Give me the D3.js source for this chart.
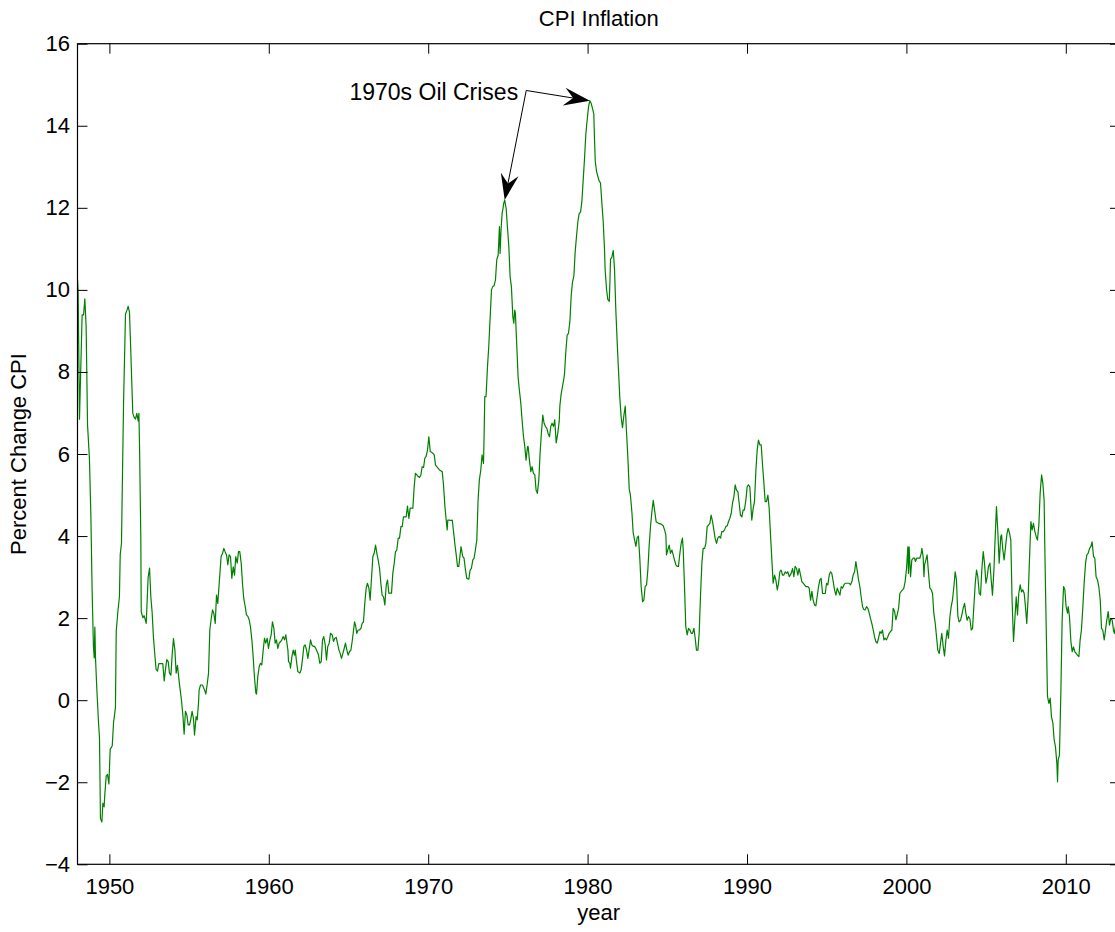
<!DOCTYPE html>
<html>
<head>
<meta charset="utf-8">
<script src="https://cdn.jsdelivr.net/npm/d3@7"></script>
<style>
  body { margin: 0; background: #fff; }
  svg { display: block; font-family: "Liberation Sans", Arial, Helvetica, sans-serif; }
</style>
</head>
<body>
<script>
// Data // ----------------------------------------------------------------------
// monthly-ish readings of year-over-year CPI change (decimal year, percent)
var dates = [
  1948.00,1948.04,1948.125,1948.29,1948.38,1948.46,1948.54,1948.63,1948.75,1948.84,1948.92,
  1949.00,1949.05,1949.09,1949.13,1949.21,1949.32,1949.38,1949.44,1949.53,1949.59,1949.67,1949.71,1949.80,1949.88,1949.97,
  1950.05,1950.18,1950.26,1950.38,1950.43,1950.53,1950.63,1950.68,1950.76,1950.80,1950.89,1950.97,
  1951.01,1951.10,1951.18,1951.26,1951.33,1951.39,1951.47,1951.55,1951.64,1951.72,1951.81,1951.85,1951.89,1951.97,
  1952.00,1952.10,1952.18,1952.31,1952.43,1952.52,1952.60,1952.68,1952.77,1952.85,1952.93,
  1953.02,1953.10,1953.23,1953.35,1953.44,1953.52,1953.60,1953.69,1953.77,1953.86,1953.94,
  1954.02,1954.11,1954.19,1954.27,1954.40,1954.52,1954.61,1954.69,1954.77,1954.86,1954.94,
  1955.03,1955.11,1955.19,1955.28,1955.34,1955.44,1955.51,1955.59,1955.63,1955.72,1955.84,1955.97,
  1956.05,1956.13,1956.22,1956.30,1956.39,1956.47,1956.55,1956.64,1956.72,1956.80,1956.89,
  1957.01,1957.10,1957.18,1957.26,1957.35,1957.43,1957.51,1957.60,1957.68,1957.77,1957.85,1957.93,
  1958.02,1958.10,1958.18,1958.27,1958.35,1958.43,1958.52,1958.60,1958.69,1958.77,1958.85,1958.94,
  1959.02,1959.10,1959.19,1959.23,1959.31,1959.40,1959.48,1959.56,1959.65,1959.73,1959.81,1959.90,1959.98,
  1960.07,1960.15,1960.23,1960.32,1960.40,1960.48,1960.57,1960.65,1960.74,1960.82,1960.90,1960.99,
  1961.07,1961.11,1961.20,1961.24,1961.32,1961.36,1961.45,1961.53,1961.61,1961.66,1961.74,1961.82,1961.95,
  1962.03,1962.12,1962.20,1962.28,1962.37,1962.45,1962.53,1962.62,1962.70,1962.79,1962.87,1962.95,
  1963.04,1963.12,1963.20,1963.29,1963.37,1963.45,1963.54,1963.62,1963.70,1963.79,1963.87,1963.98,
  1964.06,1964.14,1964.23,1964.31,1964.40,1964.48,1964.56,1964.65,1964.73,1964.81,1964.90,1964.98,
  1965.06,1965.15,1965.23,1965.32,1965.38,1965.44,1965.52,1965.61,1965.69,1965.78,1965.86,1965.94,
  1966.03,1966.11,1966.19,1966.28,1966.36,1966.45,1966.53,1966.61,1966.70,1966.78,1966.86,1966.95,
  1967.03,1967.11,1967.20,1967.28,1967.37,1967.45,1967.53,1967.62,1967.70,1967.78,1967.87,1967.95,
  1968.03,1968.12,1968.20,1968.29,1968.37,1968.45,1968.54,1968.62,1968.70,1968.79,1968.87,1968.95,
  1969.04,1969.12,1969.20,1969.29,1969.37,1969.46,1969.54,1969.62,1969.71,1969.79,1969.87,1969.96,
  1970.04,1970.13,1970.21,1970.29,1970.38,1970.46,1970.54,1970.63,1970.71,1970.79,1970.88,1970.96,
  1971.05,1971.13,1971.19,1971.23,1971.34,1971.42,1971.51,1971.59,1971.67,1971.76,1971.84,1971.92,
  1972.06,1972.17,1972.25,1972.34,1972.42,1972.55,1972.63,1972.71,1972.80,1972.88,1972.96,
  1973.05,1973.13,1973.21,1973.30,1973.38,1973.47,1973.51,1973.55,1973.63,1973.72,1973.80,1973.88,1973.97,
  1974.05,1974.13,1974.22,1974.30,1974.39,1974.47,1974.51,1974.57,1974.64,1974.68,1974.74,1974.80,1974.89,1974.97,
  1975.06,1975.14,1975.22,1975.31,1975.37,1975.43,1975.47,1975.56,1975.64,1975.72,1975.81,1975.89,1975.98,
  1976.06,1976.14,1976.23,1976.27,1976.35,1976.44,1976.52,1976.60,1976.69,1976.77,1976.85,1976.94,
  1977.02,1977.10,1977.19,1977.27,1977.36,1977.44,1977.52,1977.61,1977.69,1977.77,1977.86,1977.94,
  1978.03,1978.13,1978.22,1978.26,1978.34,1978.43,1978.51,1978.55,1978.64,1978.72,1978.80,1978.89,1978.97,
  1979.05,1979.14,1979.22,1979.31,1979.39,1979.47,1979.56,1979.64,1979.72,1979.81,1979.89,1979.97,
  1980.06,1980.14,1980.23,1980.31,1980.39,1980.43,1980.48,1980.56,1980.64,1980.73,1980.81,1980.89,1980.98,
  1981.06,1981.10,1981.19,1981.27,1981.36,1981.40,1981.44,1981.52,1981.61,1981.69,1981.77,1981.86,1981.94,
  1982.02,1982.11,1982.19,1982.27,1982.36,1982.44,1982.53,1982.61,1982.69,1982.78,1982.86,1982.94,
  1983.03,1983.11,1983.19,1983.28,1983.36,1983.45,1983.53,1983.61,1983.70,1983.78,1983.86,1983.95,
  1984.03,1984.12,1984.30,1984.45,1984.62,1984.74,1984.83,1984.91,1984.95,
  1985.03,1985.12,1985.20,1985.29,1985.37,1985.45,1985.54,1985.62,1985.70,1985.79,1985.87,1985.95,
  1986.00,1986.08,1986.16,1986.25,1986.33,1986.42,1986.50,1986.58,1986.67,1986.75,1986.83,1986.92,
  1987.00,1987.08,1987.17,1987.25,1987.34,1987.42,1987.50,1987.59,1987.67,1987.75,1987.84,1987.92,
  1988.00,1988.09,1988.17,1988.26,1988.34,1988.42,1988.51,1988.59,1988.67,1988.76,1988.84,1988.92,
  1989.01,1989.09,1989.18,1989.26,1989.34,1989.43,1989.51,1989.59,1989.68,1989.76,1989.84,1989.93,
  1990.01,1990.09,1990.18,1990.26,1990.30,1990.39,1990.47,1990.56,1990.64,1990.72,1990.81,1990.89,1990.97,
  1991.06,1991.14,1991.22,1991.31,1991.39,1991.47,1991.56,1991.64,1991.73,1991.81,1991.90,1991.98,
  1992.06,1992.14,1992.23,1992.31,1992.40,1992.48,1992.56,1992.65,1992.77,1992.86,1992.94,
  1993.02,1993.11,1993.19,1993.27,1993.36,1993.44,1993.53,1993.61,1993.69,1993.82,1993.90,1993.99,
  1994.07,1994.15,1994.24,1994.32,1994.40,1994.49,1994.57,1994.65,1994.74,1994.82,1994.91,1994.99,
  1995.07,1995.16,1995.24,1995.32,1995.41,1995.49,1995.58,1995.66,1995.74,1995.83,1995.91,1995.99,
  1996.08,1996.16,1996.24,1996.33,1996.41,1996.49,1996.58,1996.66,1996.75,1996.83,1996.91,
  1997.00,1997.08,1997.16,1997.25,1997.33,1997.41,1997.50,1997.58,1997.67,1997.75,1997.83,1997.92,
  1998.00,1998.08,1998.17,1998.25,1998.34,1998.42,1998.50,1998.59,1998.67,1998.75,1998.84,1998.92,
  1999.00,1999.09,1999.17,1999.26,1999.34,1999.42,1999.51,1999.59,1999.67,1999.76,1999.84,1999.92,
  2000.01,2000.09,2000.13,2000.17,2000.26,2000.34,2000.43,2000.51,2000.57,2000.64,2000.72,2000.84,2000.93,2000.97,
  2001.05,2001.10,2001.14,2001.22,2001.30,2001.39,2001.47,2001.56,2001.64,2001.72,2001.81,2001.89,2001.97,
  2002.06,2002.14,2002.22,2002.31,2002.39,2002.48,2002.56,2002.64,2002.73,2002.81,2002.89,2002.98,
  2003.06,2003.14,2003.23,2003.31,2003.40,2003.48,2003.56,2003.65,2003.73,2003.81,2003.90,2003.98,
  2004.07,2004.15,2004.23,2004.32,2004.40,2004.48,2004.57,2004.65,2004.73,2004.82,2004.90,2004.99,
  2005.07,2005.15,2005.24,2005.32,2005.40,2005.49,2005.57,2005.65,2005.74,2005.82,2005.92,2005.97,
  2006.05,2006.13,2006.22,2006.30,2006.38,2006.47,2006.55,2006.63,2006.72,2006.80,2006.89,2006.97,
  2007.05,2007.14,2007.22,2007.30,2007.39,2007.47,2007.55,2007.64,2007.72,2007.81,2007.89,2007.97,
  2008.06,2008.14,2008.22,2008.31,2008.39,2008.48,2008.56,2008.64,2008.68,2008.77,2008.85,2008.94,
  2009.02,2009.10,2009.19,2009.27,2009.35,2009.44,2009.48,2009.52,2009.60,2009.69,2009.77,2009.86,2009.94,
  2010.02,2010.11,2010.15,2010.23,2010.32,2010.40,2010.48,2010.57,2010.65,2010.73,2010.82,2010.90,2010.98,
  2011.07,2011.15,2011.24,2011.32,2011.40,2011.49,2011.57,2011.65,2011.74,2011.82,2011.90,2011.99,
  2012.07,2012.16,2012.24,2012.32,2012.41,2012.49,2012.57,2012.66,2012.74,2012.82,2012.91,2012.99,
  2013.05,2013.15,2013.25,2013.33
];
var inflation = [
  10.25,9.97,6.85,9.39,9.39,9.78,9.13,6.71,5.87,4.48,2.62,
  1.31,1.03,1.78,1.03,0.29,-0.55,-0.92,-2.88,-2.97,-2.51,-2.60,-2.32,-1.85,-1.81,-2.04,
  -1.20,-1.11,-0.55,-0.18,1.68,2.15,2.52,3.55,3.83,4.94,7.27,8.67,
  9.41,9.50,9.60,9.46,8.67,7.92,6.99,6.90,6.85,6.99,6.80,6.99,6.25,4.01,
  2.15,2.01,2.06,1.87,2.99,3.22,2.52,2.15,1.50,1.12,0.75,
  0.71,0.89,0.89,0.89,0.47,0.75,0.99,0.94,0.66,0.61,1.12,
  1.50,1.22,0.66,0.85,0.38,0.01,-0.36,-0.83,-0.27,-0.36,-0.60,
  -0.60,-0.46,-0.27,-0.46,-0.85,-0.40,-0.48,-0.08,0.25,0.37,0.37,0.25,
  0.15,0.37,0.66,1.71,1.99,2.20,2.12,1.87,2.56,2.36,2.85,
  3.50,3.58,3.70,3.62,3.54,3.30,3.54,3.50,2.97,3.25,3.05,3.50,
  3.34,3.62,3.62,3.34,2.85,2.48,2.28,2.08,2.04,1.96,1.79,1.47,
  1.06,0.57,0.17,0.15,0.57,0.82,0.90,0.86,1.22,1.51,1.39,1.51,1.26,
  1.47,1.59,1.91,1.75,1.39,1.47,1.26,1.39,1.43,1.47,1.55,1.47,
  1.59,1.47,1.22,0.94,0.90,0.78,1.06,1.22,1.10,1.22,0.94,0.70,0.66,
  0.74,1.02,1.31,1.35,1.22,1.02,1.22,1.47,1.35,1.31,1.31,1.26,
  1.18,1.10,0.90,0.94,1.47,1.55,1.35,0.98,1.31,1.39,1.63,1.59,
  1.43,1.51,1.53,1.39,1.22,1.14,1.02,1.14,1.26,1.39,1.22,1.10,
  1.18,1.22,1.43,1.71,1.91,1.83,1.63,1.71,1.71,1.75,1.87,1.91,
  2.40,2.73,2.85,2.73,2.44,3.01,3.50,3.58,3.78,3.58,3.42,3.21,
  2.85,2.56,2.52,2.32,2.81,2.93,2.61,2.61,2.61,3.09,3.34,3.62,
  3.66,3.95,3.95,4.23,4.23,4.47,4.47,4.47,4.73,4.43,4.68,4.68,
  4.68,5.20,5.53,5.49,5.45,5.43,5.49,5.69,5.67,5.90,5.94,6.10,
  6.42,6.06,6.04,6.02,5.98,5.73,5.69,5.65,5.61,5.59,5.57,5.25,
  4.72,4.39,4.15,4.39,4.39,4.38,4.39,4.11,3.82,3.54,3.26,3.26,
  3.74,3.50,3.46,3.17,2.97,2.95,3.17,3.21,3.42,3.46,3.66,
  3.90,4.88,5.37,5.61,5.98,5.77,6.50,7.40,7.40,8.13,8.62,9.27,10.00,
  10.08,10.10,10.24,10.73,10.85,11.54,10.89,11.46,11.87,11.95,12.11,12.19,11.99,11.54,
  11.05,10.32,10.08,9.35,9.19,9.51,9.43,8.62,7.88,7.56,7.24,6.83,6.42,
  6.18,5.85,6.18,6.18,5.85,5.57,5.69,5.53,5.49,5.12,5.04,5.37,
  6.02,6.50,6.95,6.75,6.67,6.63,6.50,6.42,6.67,6.75,6.67,6.83,
  6.27,6.51,6.80,7.17,7.46,7.66,7.83,7.95,8.53,8.90,8.94,9.23,9.85,
  10.18,10.34,10.92,11.33,11.66,11.86,11.90,12.15,12.65,13.22,13.80,14.13,
  14.46,14.61,14.54,14.42,14.29,13.72,13.14,12.89,12.77,12.65,12.61,12.15,11.66,
  11.00,10.50,10.01,9.76,9.72,10.18,10.75,10.79,10.96,10.50,9.52,8.69,8.03,
  7.38,6.88,6.64,6.92,7.17,6.55,5.89,5.15,4.99,4.58,4.08,3.92,
  3.75,3.96,4.00,3.42,2.77,2.40,2.44,2.77,2.81,3.18,3.75,4.25,
  4.58,4.87,4.35,4.31,4.29,4.25,4.15,4.03,3.54,
  3.66,3.78,3.58,3.66,3.54,3.42,3.30,3.26,3.26,3.58,3.82,3.95,
  3.66,2.77,1.79,1.59,1.75,1.71,1.63,1.63,1.75,1.51,1.22,1.22,
  1.63,2.52,3.34,3.70,3.70,3.82,4.23,4.27,4.31,4.51,4.35,4.15,
  3.95,3.82,3.95,3.99,3.95,4.11,4.11,4.15,4.23,4.25,4.35,4.43,
  4.55,4.80,4.96,5.25,5.12,5.08,4.80,4.51,4.47,4.64,4.64,4.88,
  5.20,5.25,5.20,4.64,4.39,4.68,4.84,5.61,6.10,6.34,6.22,6.22,5.77,
  5.29,4.84,4.84,5.00,4.68,4.07,3.42,2.85,3.05,2.93,2.69,2.85,
  3.13,3.17,3.05,3.05,3.13,3.09,3.13,3.01,3.09,3.21,3.01,
  3.26,3.21,3.05,3.21,3.05,2.89,2.85,2.81,2.77,2.77,2.73,2.44,
  2.65,2.44,2.32,2.30,2.52,2.77,2.93,2.97,2.60,2.60,2.60,2.85,
  2.81,3.05,3.13,3.09,2.89,2.69,2.56,2.73,2.65,2.56,2.77,2.73,
  2.81,2.85,2.85,2.85,2.85,2.81,2.89,3.05,3.13,3.38,3.17,
  2.93,2.77,2.52,2.28,2.21,2.20,2.28,2.24,2.12,1.99,1.87,1.71,
  1.55,1.43,1.39,1.51,1.67,1.63,1.71,1.47,1.51,1.47,1.55,1.63,
  1.67,1.71,2.24,2.16,1.96,2.08,2.24,2.60,2.65,2.69,2.73,2.89,
  3.21,3.74,3.09,3.74,3.01,3.42,3.46,3.46,3.38,3.46,3.46,3.46,3.58,3.70,
  3.50,3.01,3.30,3.42,3.54,3.09,2.73,2.69,2.60,2.12,1.87,1.55,1.22,
  1.14,1.39,1.63,1.31,1.08,1.47,1.71,1.51,2.04,2.28,2.44,2.77,
  3.13,2.93,2.04,1.91,1.95,2.08,2.24,2.36,2.12,1.95,2.04,1.99,
  1.71,1.75,2.28,2.85,3.17,3.01,2.60,2.56,3.17,3.62,3.34,2.85,
  3.01,3.26,3.34,2.93,2.56,3.17,3.98,4.72,4.07,3.34,3.99,4.03,
  3.66,3.42,3.74,4.03,4.19,4.07,3.90,2.44,1.43,1.95,2.52,2.08,
  2.60,2.81,2.64,2.69,2.60,2.28,1.87,2.52,3.42,4.35,4.15,4.31,
  4.11,3.99,3.90,4.27,5.04,5.49,5.29,4.88,3.82,1.79,0.09,-0.08,
  0.05,-0.40,-0.56,-0.97,-1.13,-1.54,-1.99,-1.46,-1.34,0.17,1.95,2.77,2.69,
  2.28,2.12,2.28,2.04,1.43,1.18,1.30,1.18,1.14,1.10,1.06,1.47,1.71,
  2.28,2.85,3.34,3.54,3.58,3.70,3.74,3.86,3.50,3.46,3.01,2.93,
  2.77,2.44,1.75,1.71,1.47,1.71,1.95,2.16,1.83,1.99,1.95,1.71,
  1.63,1.90,1.50,1.40
];
var xTicks = [1950, 1960, 1970, 1980, 1990, 2000, 2010];
var yTicks = [-4, -2, 0, 2, 4, 6, 8, 10, 12, 14, 16];
var xLimits = [1948, 2013.4];
var yLimits = [-4, 16];
var chartTitle = "CPI Inflation";
var xLabel = "year";
var yLabel = "Percent Change CPI";
// annotation: text spot and arrow start in data units, arrows point at the two peaks
var noteText = "1970s Oil Crises";
var noteAt = [1965.06, 14.63];
var noteTail = [1976.15, 14.86];
var peakWindows = [[1973, 1976], [1979, 1981]];

// Layout // --------------------------------------------------------------------
var svgW = 1115, svgH = 932;
var margin = {top: 43.7, left: 77.5},
    width = 1042.5,   // right edge of the axes falls just past the picture
    height = 820.6;

var x = d3.scaleLinear().domain(xLimits).range([0, width]),
    y = d3.scaleLinear().domain(yLimits).range([height, 0]);

var svg = d3.select("body").append("svg")
            .attr("width", svgW)
            .attr("height", svgH);

var g = svg.append("g")
           .attr("transform", "translate(" + margin.left + "," + margin.top + ")");

var fontSize = 22;

// clip for the data line
g.append("clipPath").attr("id", "plotclip")
 .append("rect").attr("width", width).attr("height", height);

// the series
var series = d3.zip(dates, inflation);
var valueLine = d3.line()
                  .x(function(d){ return x(d[0]); })
                  .y(function(d){ return y(d[1]); });

g.append("path")
 .datum(series)
 .attr("clip-path", "url(#plotclip)")
 .attr("fill", "none")
 .attr("stroke", "#008000")
 .attr("stroke-width", 1.2)
 .attr("stroke-linejoin", "round")
 .attr("d", valueLine);

// axes: ticks drawn inward on all four sides
function styleAxis(sel) {
  sel.attr("font-family", null).attr("font-size", fontSize);
  sel.select(".domain").remove();
  sel.selectAll(".tick line").attr("stroke", "#000").attr("stroke-width", 1);
  sel.selectAll(".tick text").attr("fill", "#000");
}

g.append("g")
 .attr("transform", "translate(0," + height + ")")
 .call(d3.axisBottom(x).tickValues(xTicks).tickFormat(d3.format("d"))
         .tickSizeInner(-10).tickSizeOuter(0).tickPadding(14))
 .call(styleAxis);

g.append("g")
 .call(d3.axisTop(x).tickValues(xTicks).tickFormat("")
         .tickSizeInner(-10).tickSizeOuter(0))
 .call(styleAxis);

g.append("g")
 .call(d3.axisLeft(y).tickValues(yTicks).tickFormat(d3.format("d"))
         .tickSizeInner(-10).tickSizeOuter(0).tickPadding(7.5))
 .call(styleAxis);

g.append("g")
 .attr("transform", "translate(" + width + ",0)")
 .call(d3.axisRight(y).tickValues(yTicks).tickFormat("")
         .tickSizeInner(-10).tickSizeOuter(0))
 .call(styleAxis);

// axes box
g.append("rect")
 .attr("width", width)
 .attr("height", height)
 .attr("fill", "none")
 .attr("stroke", "#000")
 .attr("stroke-width", 1.2);

// titles
g.append("text")
 .attr("x", width / 2).attr("y", -17.7)
 .attr("text-anchor", "middle")
 .attr("font-size", fontSize)
 .text(chartTitle);

g.append("text")
 .attr("x", width / 2).attr("y", height + 56)
 .attr("text-anchor", "middle")
 .attr("font-size", fontSize)
 .text(xLabel);

g.append("text")
 .attr("transform", "translate(" + (26 - margin.left) + "," + (height / 2) + ") rotate(-90)")
 .attr("text-anchor", "middle")
 .attr("font-size", fontSize)
 .text(yLabel);

// annotation with two arrows
g.append("text")
 .attr("x", x(noteAt[0])).attr("y", y(noteAt[1]))
 .attr("font-size", 23)
 .text(noteText);

var tail = [x(noteTail[0]), y(noteTail[1])];
var headLen = 26, headHalf = 9, notch = 0.65;

peakWindows.forEach(function(w) {
  var idx = d3.range(series.length).filter(function(i){ return series[i][0] >= w[0] && series[i][0] <= w[1]; });
  var best = idx[d3.maxIndex(idx, function(i){ return series[i][1]; })];
  var tip = [x(series[best][0]), y(series[best][1])];
  var ang = Math.atan2(tip[1] - tail[1], tip[0] - tail[0]);
  var stop = [tip[0] - Math.cos(ang) * headLen * notch, tip[1] - Math.sin(ang) * headLen * notch];

  g.append("line")
   .attr("x1", tail[0]).attr("y1", tail[1])
   .attr("x2", stop[0]).attr("y2", stop[1])
   .attr("stroke", "#000").attr("stroke-width", 1);

  g.append("path")
   .attr("transform", "translate(" + tip[0] + "," + tip[1] + ") rotate(" + (ang * 180 / Math.PI) + ")")
   .attr("d", "M0,0L" + (-headLen) + "," + (-headHalf) + "L" + (-headLen * notch) + ",0L" + (-headLen) + "," + headHalf + "Z")
   .attr("fill", "#000");
});
</script>
</body>
</html>
